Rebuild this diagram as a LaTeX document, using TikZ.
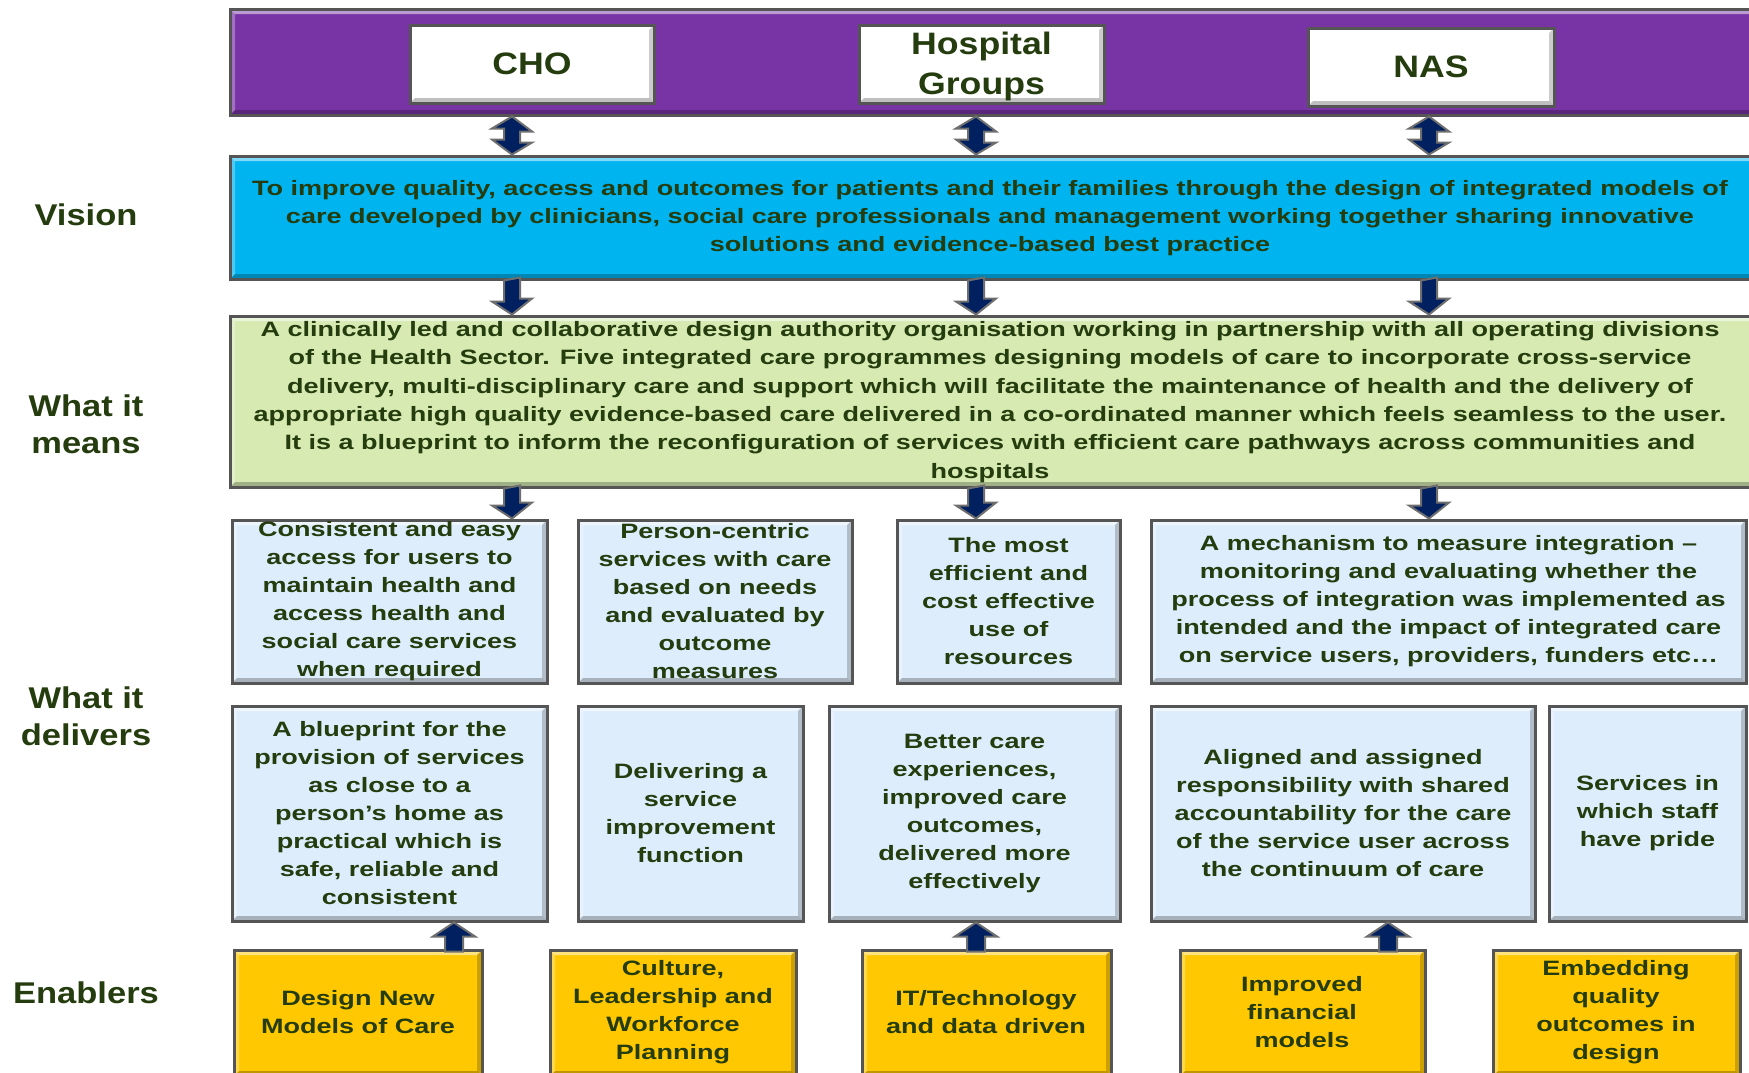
\documentclass[tikz,border=0pt]{standalone}
\usepackage{fontspec}
\setmainfont{Liberation Sans}
\newfontfamily\bodyfont[FakeStretch=1.3]{Liberation Sans}
\newfontfamily\labfont[FakeStretch=1.15]{Liberation Sans}
\usetikzlibrary{fit,calc}
\definecolor{purplebar}{RGB}{120,52,165}
\definecolor{cyanbox}{RGB}{0,180,240}
\definecolor{greenbox}{RGB}{214,234,178}
\definecolor{lightbox}{RGB}{222,237,252}
\definecolor{yellowbox}{RGB}{255,200,0}
\definecolor{navy}{RGB}{0,32,96}
\definecolor{bordergray}{RGB}{85,85,85}
\definecolor{arrowgray}{RGB}{110,110,110}
\definecolor{txtgreen}{RGB}{36,60,14}
\tikzset{
  bevel/.style={path picture={
    \coordinate (pnw) at (path picture bounding box.north west);
    \coordinate (pne) at (path picture bounding box.north east);
    \coordinate (psw) at (path picture bounding box.south west);
    \coordinate (pse) at (path picture bounding box.south east);
    \fill[white,opacity=.5] (pnw) -- (pne) -- ([shift={(-2.5pt,-2.5pt)}]pne) -- ([shift={(2.5pt,-2.5pt)}]pnw) -- cycle;
    \fill[white,opacity=.3] (pnw) -- ([shift={(2.5pt,-2.5pt)}]pnw) -- ([shift={(2.5pt,2.5pt)}]psw) -- (psw) -- cycle;
    \fill[black,opacity=.25] (psw) -- (pse) -- ([shift={(-2.5pt,2.5pt)}]pse) -- ([shift={(2.5pt,2.5pt)}]psw) -- cycle;
    \fill[black,opacity=.2] (pne) -- (pse) -- ([shift={(-2.5pt,2.5pt)}]pse) -- ([shift={(-2.5pt,-2.5pt)}]pne) -- cycle;
  }},
  box/.style={draw=bordergray, line width=1.5pt, inner sep=0pt, bevel},
  txt/.style={text=txtgreen, align=center, inner sep=0pt,
    font=\bodyfont\bfseries\fontsize{10.4}{14}\selectfont},
  vtxt/.style={txt, font=\bodyfont\bfseries\fontsize{10.4}{14}\selectfont},
  gtxt/.style={txt, font=\bodyfont\bfseries\fontsize{10.4}{14.2}\selectfont},
  lab/.style={text=txtgreen, align=center, inner sep=0pt,
    font=\labfont\bfseries\fontsize{15}{18.5}\selectfont},
  hdr/.style={text=txtgreen, align=center, inner sep=0pt,
    font=\labfont\bfseries\fontsize{15.5}{20}\selectfont},
  barrow/.style={fill=navy, draw=arrowgray, line width=1pt, line join=miter},
}
\begin{document}
\begin{tikzpicture}[x=0.5pt,y=-0.5pt]
\useasboundingbox (0,0) rectangle (1749,1072);
\clip (0,0) rectangle (1749,1072);
\fill[white] (0,0) rectangle (1749,1072);

% columns for arrows
\coordinate (ax1) at (512,0);
\coordinate (ax2) at (976,0);
\coordinate (ax3) at (1429,0);
\coordinate (ux1) at (454,0);
\coordinate (ux2) at (976,0);
\coordinate (ux3) at (1388,0);

% top bar
\node[box, fill=purplebar, fit={(230,9) (1765,115)}] (bar) {};
\node[box, fill=white, fit={(410,25) (654,103)}] (cho) {};
\node[hdr] at (cho) {CHO};
\node[box, fill=white, fit={(859,25) (1104,103)}] (hg) {};
\node[hdr] at ([yshift=-1pt]hg.center) {Hospital\\Groups};
\node[box, fill=white, fit={(1308,28) (1554,106)}] (nas) {};
\node[hdr] at (nas) {NAS};

% vision
\node[box, fill=cyanbox, fit={(230,156) (1765,279)}] (vis) {};
\node[vtxt] (vist) at (990,218) {To improve quality, access and outcomes for patients and their families through the design of integrated models of\\care developed by clinicians, social care professionals and management working together sharing innovative\\solutions and evidence-based best practice};

% what it means
\node[box, fill=greenbox, fit={(230,316) (1765,487)}] (mean) {};
\node[gtxt] (meant) at (990,402) {A clinically led and collaborative design authority organisation working in partnership with all operating divisions\\of the Health Sector. Five integrated care programmes designing models of care to incorporate cross-service\\delivery, multi-disciplinary care and support which will facilitate the maintenance of health and the delivery of\\appropriate high quality evidence-based care delivered in a co-ordinated manner which feels seamless to the user.\\It is a blueprint to inform the reconfiguration of services with efficient care pathways across communities and\\hospitals};

% row 1
\node[box, fill=lightbox, fit={(232,520) (547,683)}] (b1) {};
\node[txt] (b1t) at (b1) {Consistent and easy\\access for users to\\maintain health and\\access health and\\social care services\\when required};
\node[box, fill=lightbox, fit={(578,520) (852,683)}] (b2) {};
\node[txt] (b2t) at (b2) {Person-centric\\services with care\\based on needs\\and evaluated by\\outcome\\measures};
\node[box, fill=lightbox, fit={(897,520) (1120,683)}] (b3) {};
\node[txt] (b3t) at (b3) {The most\\efficient and\\cost effective\\use of\\resources};
\node[box, fill=lightbox, fit={(1151,520) (1746,683)}] (b4) {};
\node[txt] (b4t) at (b4) {A mechanism to measure integration –\\monitoring and evaluating whether the\\process of integration was implemented as\\intended and the impact of integrated care\\on service users, providers, funders etc…};

% row 2
\node[box, fill=lightbox, fit={(232,706) (547,921)}] (c1) {};
\node[txt] (c1t) at (c1) {A blueprint for the\\provision of services\\as close to a\\person’s home as\\practical which is\\safe, reliable and\\consistent};
\node[box, fill=lightbox, fit={(578,706) (803,921)}] (c2) {};
\node[txt] (c2t) at (c2) {Delivering a\\service\\improvement\\function};
\node[box, fill=lightbox, fit={(829,706) (1120,921)}] (c3) {};
\node[txt] (c3t) at (c3) {Better care\\experiences,\\improved care\\outcomes,\\delivered more\\effectively};
\node[box, fill=lightbox, fit={(1151,706) (1535,921)}] (c4) {};
\node[txt] (c4t) at (c4) {Aligned and assigned\\responsibility with shared\\accountability for the care\\of the service user across\\the continuum of care};
\node[box, fill=lightbox, fit={(1549,706) (1746,921)}] (c5) {};
\node[txt] (c5t) at (c5) {Services in\\which staff\\have pride};

% enablers
\node[box, fill=yellowbox, fit={(234,950) (482,1076)}] (e1) {};
\node[txt] (e1t) at (358,1012) {Design New\\Models of Care};
\node[box, fill=yellowbox, fit={(550,950) (796,1076)}] (e2) {};
\node[txt] (e2t) at (673,1012) {Culture,\\Leadership and\\Workforce\\Planning};
\node[box, fill=yellowbox, fit={(862,950) (1111,1076)}] (e3) {};
\node[txt] (e3t) at (986,1012) {IT/Technology\\and data driven};
\node[box, fill=yellowbox, fit={(1180,950) (1425,1076)}] (e4) {};
\node[txt] (e4t) at (1302,1012) {Improved\\financial\\models};
\node[box, fill=yellowbox, fit={(1493,950) (1740,1076)}] (e5) {};
\node[txt] (e5t) at (1616,1012) {Embedding\\quality\\outcomes in\\design};

% left labels
\node[lab] (lv) at (86,215) {Vision};
\node[lab] (lm) at (86,424) {What it\\means};
\node[lab] (ld) at (86,716) {What it\\delivers};
\node[lab] (le) at (86,993) {Enablers};

% double arrows bar <-> vision
\foreach \a in {ax1,ax2,ax3}{
  \draw[barrow] (bar.south -| \a) -- ++(20,15) -- ++(-12,0) -- ++(0,11) -- ++(12,0)
     -- (vis.north -| \a) -- ++(-20,-15) -- ++(12,0) -- ++(0,-11) -- ++(-12,0) -- cycle;
}
% down arrows vision -> means
\foreach \a in {ax1,ax2,ax3}{
  \draw[barrow] (vis.south -| \a) ++(-8,0) -- ++(0,21) -- ++(-12,0)
     -- (mean.north -| \a) -- ++(20,-16) -- ++(-12,0) -- ++(0,-21) -- cycle;
}
% down arrows means -> row 1
\draw[barrow] (mean.south -| ax1) ++(-8,0) -- ++(0,17) -- ++(-12,0) -- (b1.north -| ax1) -- ++(20,-16) -- ++(-12,0) -- ++(0,-17) -- cycle;
\draw[barrow] (mean.south -| ax2) ++(-8,0) -- ++(0,17) -- ++(-12,0) -- (b3.north -| ax2) -- ++(20,-16) -- ++(-12,0) -- ++(0,-17) -- cycle;
\draw[barrow] (mean.south -| ax3) ++(-8,0) -- ++(0,17) -- ++(-12,0) -- (b4.north -| ax3) -- ++(20,-16) -- ++(-12,0) -- ++(0,-17) -- cycle;
% up arrows enablers -> row 2
\draw[barrow] (c1.south -| ux1) -- ++(21,14) -- ++(-12,0) -- ++(0,15) -- ++(-18,0) -- ++(0,-15) -- ++(-12,0) -- cycle;
\draw[barrow] (c3.south -| ux2) -- ++(21,14) -- ++(-12,0) -- ++(0,15) -- ++(-18,0) -- ++(0,-15) -- ++(-12,0) -- cycle;
\draw[barrow] (c4.south -| ux3) -- ++(21,14) -- ++(-12,0) -- ++(0,15) -- ++(-18,0) -- ++(0,-15) -- ++(-12,0) -- cycle;
\end{tikzpicture}
\end{document}
